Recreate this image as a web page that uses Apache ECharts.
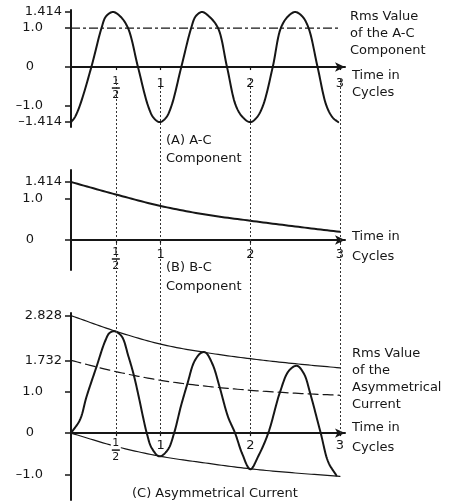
<!DOCTYPE html>
<html><head><meta charset="utf-8">
<script src="https://cdn.jsdelivr.net/npm/echarts@6/dist/echarts.min.js"></script>
<style>html,body{margin:0;background:#fff}#c{width:459px;height:504px}</style>
</head><body><div id="c"></div>
<script>
// ---------- data ----------
const xTicks = [0.5, 1, 2, 3];
const xTickLabels = ['1/2', '1', '2', '3'];
const guideTimes = [0.5, 1, 2, 3];

// (A) A-C component
const acTime  = [0, 0.04, 0.097, 0.227, 0.34, 0.39, 0.468, 0.55, 0.636, 0.747, 0.86, 0.92, 0.99,
                 1.06, 1.12, 1.23, 1.34, 1.39, 1.46, 1.54, 1.64, 1.74, 1.84, 1.92, 2.00,
                 2.07, 2.14, 2.25, 2.34, 2.42, 2.50, 2.58, 2.65, 2.75, 2.85, 2.92, 2.98];
const acValue = [-1.414, -1.3, -1.0, 0, 1.0, 1.3, 1.414, 1.3, 1.0, 0, -1.0, -1.3, -1.414,
                 -1.3, -1.0, 0, 1.0, 1.3, 1.414, 1.3, 1.0, 0, -1.0, -1.3, -1.414,
                 -1.3, -1.0, 0, 1.0, 1.3, 1.414, 1.3, 1.0, 0, -1.0, -1.3, -1.414];
const acRms = 1.0;
const acRmsSpan = [0, 3];

// (B) D-C component
const dcTime  = [0, 0.5, 1, 1.5, 2, 2.5, 3];
const dcValue = [1.414, 1.11, 0.83, 0.62, 0.47, 0.33, 0.20];

// (C) asymmetrical current
const asymTime  = [0, 0.10, 0.174, 0.285, 0.38, 0.43, 0.485, 0.565, 0.64, 0.70, 0.755, 0.81, 0.845, 0.90, 0.987,
                   1.08, 1.15, 1.225, 1.30, 1.375, 1.45, 1.50, 1.58, 1.66, 1.75, 1.83, 1.91, 2.00, 2.09,
                   2.20, 2.33, 2.43, 2.52, 2.60, 2.665, 2.785, 2.87, 2.96];
const asymValue = [0, 0.32, 0.88, 1.60, 2.21, 2.41, 2.45, 2.33, 1.85, 1.40, 0.88, 0.32, 0, -0.36, -0.56,
                   -0.40, 0, 0.64, 1.20, 1.72, 1.93, 1.94, 1.65, 1.09, 0.40, 0, -0.50, -0.87, -0.55,
                   0, 0.98, 1.50, 1.62, 1.42, 0.98, 0, -0.70, -1.02];
const envTime   = [0, 0.5, 1, 1.5, 2, 2.5, 3];
const upperEnv  = [2.828, 2.45, 2.14, 1.94, 1.79, 1.67, 1.57];
const rmsAsym   = [1.75, 1.48, 1.27, 1.13, 1.03, 0.96, 0.91];
const lowerEnv  = [0, -0.32, -0.56, -0.72, -0.86, -0.96, -1.04];

// y tick labels
const yTicksA = [1.414, 1.0, 0, -1.0, -1.414];
const yLabelsA = ['1.414', '1.0', '0', '–1.0', '–1.414'];
const yTicksB = [1.414, 1.0, 0];
const yLabelsB = ['1.414', '1.0', '0'];
const yTicksC = [2.828, 1.732, 1.0, 0, -1.0];
const yLabelsC = ['2.828', '1.732', '1.0', '0', '–1.0'];

// ---------- helpers ----------
const zip = (xs, ys) => xs.map((x, i) => [x, ys[i]]);
const INK = '#161616';
const FONT = 'DejaVu Sans';
const X_MIN = 0, X_MAX = 3.056;

const grids = [
  { left: 71, top: 10, width: 274, height: 117 },
  { left: 71, top: 170, width: 274, height: 100 },
  { left: 71, top: 313, width: 274, height: 187 },
  { left: 71, top: 78, width: 274, height: 355 }
];
const yRanges = [[-1.54, 1.465], [-0.732, 1.707], [-1.61, 2.89]];

function yLabelFormatter(ticks, labels) {
  return v => {
    const i = ticks.findIndex(t => Math.abs(t - v) < 1e-6);
    if (i < 0) return '';
    const s = labels[i];
    if (s === '0') return '{z|' + s + '}';
    if (s.replace('–', '').length >= 5) return '{l|' + s + '}';
    return '{s|' + s + '}';
  };
}
const yRich = {
  l: { fontSize: 13, fontFamily: FONT, color: INK },
  s: { fontSize: 13, fontFamily: FONT, color: INK, padding: [0, 19, 0, 0] },
  z: { fontSize: 13, fontFamily: FONT, color: INK, padding: [0, 28, 0, 0] }
};
function xLabelFormatter(v) {
  const i = xTicks.findIndex(t => Math.abs(t - v) < 1e-6);
  if (i < 0) return '';
  const s = xTickLabels[i];
  if (s.indexOf('/') > 0) {
    const [n, d] = s.split('/');
    return '{n|' + n + '}\n{bar| }\n{d|' + d + '}';
  }
  return '{v|' + s + '}';
}
const xRich = {
  v: { fontSize: 13, fontFamily: FONT, color: INK, lineHeight: 13 },
  n: { fontSize: 11, fontFamily: FONT, color: INK, lineHeight: 9 },
  d: { fontSize: 11, fontFamily: FONT, color: INK, lineHeight: 10 },
  bar: { width: 8, height: 1.5, lineHeight: 4, backgroundColor: INK, fontSize: 1 }
};

function makeX(gi, labelMargin) {
  const g = grids[gi], [mn, mx] = yRanges[gi];
  const zeroFromBottom = g.height * (0 - mn) / (mx - mn);
  return {
    type: 'value', gridIndex: gi, min: X_MIN, max: X_MAX, z: 3,
    position: 'bottom', offset: -zeroFromBottom,
    splitLine: { show: false },
    axisLine: { show: true, onZero: false, symbol: ['none', 'arrow'], symbolSize: [7, 10],
      lineStyle: { color: INK, width: 2 } },
    axisTick: { show: true, customValues: xTicks, length: 3, lineStyle: { color: INK, width: 1.2 } },
    axisLabel: { show: true, customValues: xTicks, formatter: xLabelFormatter, rich: xRich,
      margin: labelMargin, backgroundColor: '#fff', padding: [1, 1, 1, 1] }
  };
}
function makeY(gi, ticks, labels) {
  const [mn, mx] = yRanges[gi];
  return {
    type: 'value', gridIndex: gi, min: mn, max: mx, z: 3,
    splitLine: { show: false },
    axisLine: { show: true, onZero: false, lineStyle: { color: INK, width: 2 } },
    axisTick: { show: true, customValues: ticks, length: 6, lineStyle: { color: INK, width: 1.5 } },
    axisLabel: { show: true, customValues: ticks, formatter: yLabelFormatter(ticks, labels),
      rich: yRich, margin: 9, align: 'right' }
  };
}

// centripetal Catmull-Rom through pixel points (rendering only)
function catmullRom(P, seg) {
  const n = P.length;
  if (n < 3) return P;
  const out = [P[0]];
  const ref = (a, b) => [2 * a[0] - b[0], 2 * a[1] - b[1]];
  const d = (a, b) => Math.max(1e-4, Math.sqrt(Math.hypot(a[0] - b[0], a[1] - b[1])));
  const lerp = (a, b, ta, tb, t) => {
    const w = (t - ta) / (tb - ta);
    return [a[0] + (b[0] - a[0]) * w, a[1] + (b[1] - a[1]) * w];
  };
  for (let i = 0; i < n - 1; i++) {
    const p0 = i === 0 ? ref(P[0], P[1]) : P[i - 1];
    const p1 = P[i], p2 = P[i + 1];
    const p3 = i + 2 < n ? P[i + 2] : ref(P[n - 1], P[n - 2]);
    const t0 = 0, t1 = t0 + d(p0, p1), t2 = t1 + d(p1, p2), t3 = t2 + d(p2, p3);
    for (let k = 1; k <= seg; k++) {
      const t = t1 + (t2 - t1) * k / seg;
      const A1 = lerp(p0, p1, t0, t1, t), A2 = lerp(p1, p2, t1, t2, t), A3 = lerp(p2, p3, t2, t3, t);
      const B1 = lerp(A1, A2, t0, t2, t), B2 = lerp(A2, A3, t1, t3, t);
      out.push(lerp(B1, B2, t1, t2, t));
    }
  }
  return out;
}

function curve(name, gi, xs, ys, width, dash, z) {
  return {
    name, type: 'custom', coordinateSystem: 'cartesian2d', xAxisIndex: gi, yAxisIndex: gi,
    z: z || 4, silent: true, data: zip(xs, ys), encode: { x: 0, y: 1 }, clip: false,
    renderItem: (params, api) => {
      if (params.dataIndex !== 0) return null;
      const n = params.dataInsideLength;
      const pts = [];
      for (let i = 0; i < n; i++) pts.push(api.coord([api.value(0, i), api.value(1, i)]));
      return {
        type: 'polyline', silent: true,
        shape: { points: catmullRom(pts, 14) },
        style: { stroke: INK, lineWidth: width, fill: null, lineDash: dash || null,
          lineJoin: 'round', lineCap: 'round' }
      };
    }
  };
}

const txt = (left, top, text, lh) => ({ type: 'text', left, top, z: 10,
  style: { text, font: '13px "DejaVu Sans"', fill: INK, lineHeight: lh || 17 } });

const option = {
  backgroundColor: '#fff',
  animation: false,
  grid: grids,
  xAxis: [
    makeX(0, 9),
    makeX(1, 7),
    makeX(2, 5),
    { type: 'value', gridIndex: 3, min: X_MIN, max: X_MAX, show: false }
  ],
  yAxis: [
    makeY(0, yTicksA, yLabelsA),
    makeY(1, yTicksB, yLabelsB),
    makeY(2, yTicksC, yLabelsC),
    { type: 'value', gridIndex: 3, min: 0, max: 1, show: false }
  ],
  series: [
    curve('A-C component', 0, acTime, acValue, 2),
    {
      name: 'Rms value of A-C', type: 'line', xAxisIndex: 0, yAxisIndex: 0, z: 4, silent: true,
      data: acRmsSpan.map(t => [t, acRms]), symbol: 'none',
      lineStyle: { color: INK, width: 1.2, type: [9, 3, 3, 3] }
    },
    curve('D-C component', 1, dcTime, dcValue, 2),
    curve('Asymmetrical current', 2, asymTime, asymValue, 2),
    curve('Upper envelope', 2, envTime, upperEnv, 1.2),
    curve('Rms of asymmetrical current', 2, envTime, rmsAsym, 1.2, [10, 5]),
    curve('Lower envelope', 2, envTime, lowerEnv, 1.2, null, 2),
    {
      name: 'guides', type: 'line', xAxisIndex: 3, yAxisIndex: 3, data: [], z: 1, silent: true,
      markLine: {
        symbol: 'none', silent: true, label: { show: false }, animation: false,
        lineStyle: { color: '#333', width: 1, type: [2, 2] },
        data: guideTimes.map(t => ({ xAxis: t }))
      }
    }
  ],
  graphic: [
    txt(350, 8, 'Rms Value\nof the A-C\nComponent', 17),
    txt(352, 67, 'Time in\nCycles', 17),
    txt(166, 132, '(A) A-C\nComponent', 18),
    txt(352, 227, 'Time in\nCycles', 20),
    txt(166, 258, '(B) B-C\nComponent', 19),
    txt(352, 345, 'Rms Value\nof the\nAsymmetrical\nCurrent', 17),
    txt(352, 418, 'Time in\nCycles', 20),
    txt(132, 487, '(C) Asymmetrical Current', 14)
  ]
};

const chart = echarts.init(document.getElementById('c'), null, { renderer: 'canvas' });
chart.setOption(option);
</script>
</body></html>
